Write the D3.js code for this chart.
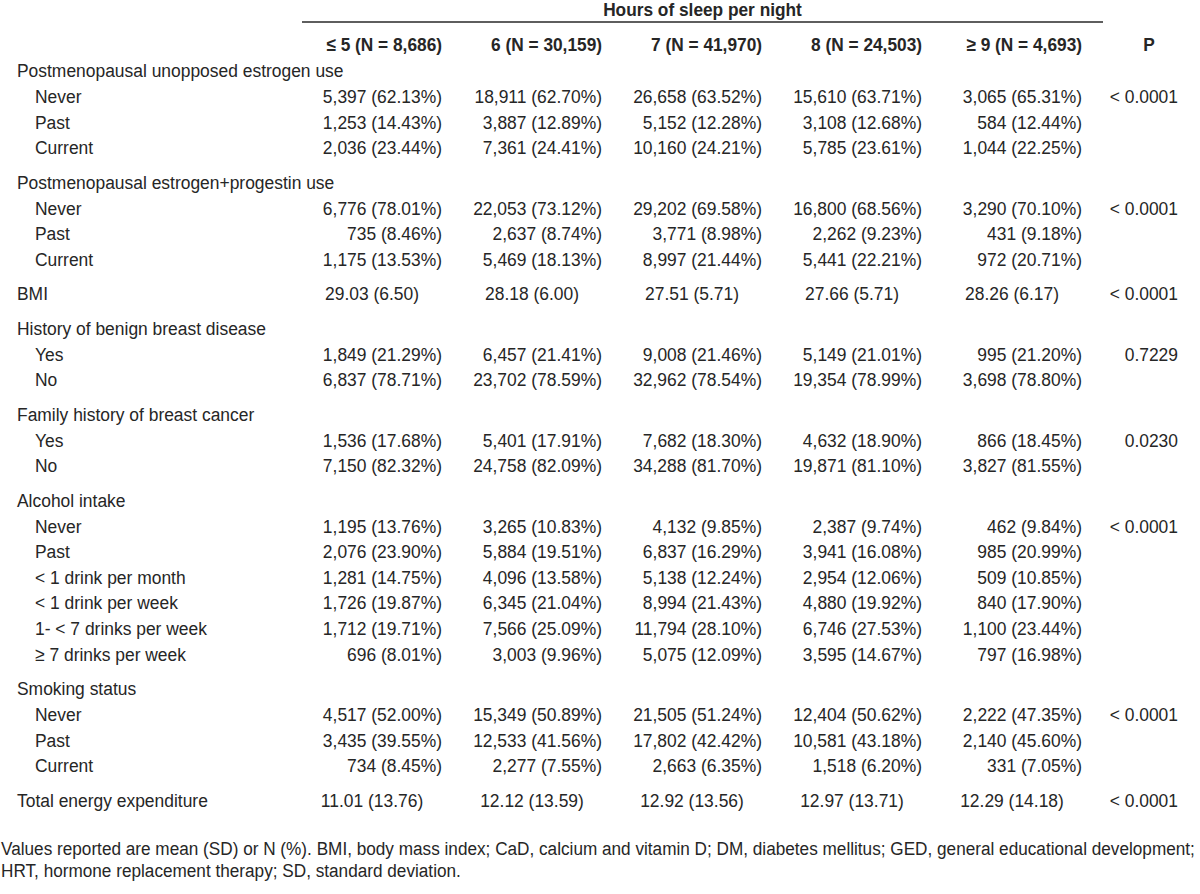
<!DOCTYPE html>
<html>
<head>
<meta charset="utf-8">
<script src="https://cdn.jsdelivr.net/npm/d3@7"></script>
<style>
  html, body { margin: 0; padding: 0; background: #fff; }
  svg { display: block; }
</style>
</head>
<body>
<svg id="chart" width="1200" height="894"></svg>
<script>
// ---------- data ----------
const spannerTitle = "Hours of sleep per night";
const columns = ["≤ 5 (N = 8,686)", "6 (N = 30,159)", "7 (N = 41,970)", "8 (N = 24,503)", "≥ 9 (N = 4,693)"];
const pHeader = "P";

const rowLabels = [
  "Postmenopausal unopposed estrogen use", "Never", "Past", "Current",
  "Postmenopausal estrogen+progestin use", "Never", "Past", "Current",
  "BMI",
  "History of benign breast disease", "Yes", "No",
  "Family history of breast cancer", "Yes", "No",
  "Alcohol intake", "Never", "Past", "< 1 drink per month", "< 1 drink per week", "1- < 7 drinks per week", "≥ 7 drinks per week",
  "Smoking status", "Never", "Past", "Current",
  "Total energy expenditure"
];
// g = group heading, s = sub-category (N (%)), m = mean (SD) row
const rowKinds = ["g","s","s","s", "g","s","s","s", "m", "g","s","s", "g","s","s", "g","s","s","s","s","s","s", "g","s","s","s", "m"];

const sleep5 = ["", "5,397 (62.13%)", "1,253 (14.43%)", "2,036 (23.44%)", "", "6,776 (78.01%)", "735 (8.46%)", "1,175 (13.53%)", "29.03 (6.50)", "", "1,849 (21.29%)", "6,837 (78.71%)", "", "1,536 (17.68%)", "7,150 (82.32%)", "", "1,195 (13.76%)", "2,076 (23.90%)", "1,281 (14.75%)", "1,726 (19.87%)", "1,712 (19.71%)", "696 (8.01%)", "", "4,517 (52.00%)", "3,435 (39.55%)", "734 (8.45%)", "11.01 (13.76)"];
const sleep6 = ["", "18,911 (62.70%)", "3,887 (12.89%)", "7,361 (24.41%)", "", "22,053 (73.12%)", "2,637 (8.74%)", "5,469 (18.13%)", "28.18 (6.00)", "", "6,457 (21.41%)", "23,702 (78.59%)", "", "5,401 (17.91%)", "24,758 (82.09%)", "", "3,265 (10.83%)", "5,884 (19.51%)", "4,096 (13.58%)", "6,345 (21.04%)", "7,566 (25.09%)", "3,003 (9.96%)", "", "15,349 (50.89%)", "12,533 (41.56%)", "2,277 (7.55%)", "12.12 (13.59)"];
const sleep7 = ["", "26,658 (63.52%)", "5,152 (12.28%)", "10,160 (24.21%)", "", "29,202 (69.58%)", "3,771 (8.98%)", "8,997 (21.44%)", "27.51 (5.71)", "", "9,008 (21.46%)", "32,962 (78.54%)", "", "7,682 (18.30%)", "34,288 (81.70%)", "", "4,132 (9.85%)", "6,837 (16.29%)", "5,138 (12.24%)", "8,994 (21.43%)", "11,794 (28.10%)", "5,075 (12.09%)", "", "21,505 (51.24%)", "17,802 (42.42%)", "2,663 (6.35%)", "12.92 (13.56)"];
const sleep8 = ["", "15,610 (63.71%)", "3,108 (12.68%)", "5,785 (23.61%)", "", "16,800 (68.56%)", "2,262 (9.23%)", "5,441 (22.21%)", "27.66 (5.71)", "", "5,149 (21.01%)", "19,354 (78.99%)", "", "4,632 (18.90%)", "19,871 (81.10%)", "", "2,387 (9.74%)", "3,941 (16.08%)", "2,954 (12.06%)", "4,880 (19.92%)", "6,746 (27.53%)", "3,595 (14.67%)", "", "12,404 (50.62%)", "10,581 (43.18%)", "1,518 (6.20%)", "12.97 (13.71)"];
const sleep9 = ["", "3,065 (65.31%)", "584 (12.44%)", "1,044 (22.25%)", "", "3,290 (70.10%)", "431 (9.18%)", "972 (20.71%)", "28.26 (6.17)", "", "995 (21.20%)", "3,698 (78.80%)", "", "866 (18.45%)", "3,827 (81.55%)", "", "462 (9.84%)", "985 (20.99%)", "509 (10.85%)", "840 (17.90%)", "1,100 (23.44%)", "797 (16.98%)", "", "2,222 (47.35%)", "2,140 (45.60%)", "331 (7.05%)", "12.29 (14.18)"];
const pValues = ["", "< 0.0001", "", "", "", "< 0.0001", "", "", "< 0.0001", "", "0.7229", "", "", "0.0230", "", "", "< 0.0001", "", "", "", "", "", "", "< 0.0001", "", "", "< 0.0001"];

const footnoteLines = [
  "Values reported are mean (SD) or N (%). BMI, body mass index; CaD, calcium and vitamin D; DM, diabetes mellitus; GED, general educational development;",
  "HRT, hormone replacement therapy; SD, standard deviation."
];

// ---------- layout ----------
const svg = d3.select("#chart");
const FONT = "'Liberation Sans Narrow','Arial Narrow','Liberation Sans',Arial,sans-serif";
const FS = 19;
const INK = "#262626";

// calibrate horizontal compression so widths match the condensed face of the original
function measure(str, weight) {
  const t = svg.append("text").attr("font-family", FONT).attr("font-size", FS)
    .attr("font-weight", weight).text(str);
  const w = t.node().getComputedTextLength();
  t.remove();
  return w;
}
const sxReg = 129 / measure("26,658 (63.52%)", "normal");
const sxBold = 111 / measure("7 (N = 41,970)", "bold");
const sxFoot = 1194 / measure(footnoteLines[0], "normal");

function put(g, str, x, y, anchor, weight, sx) {
  g.append("text")
    .attr("transform", `translate(${x},${y}) scale(${sx},1)`)
    .attr("text-anchor", anchor)
    .attr("dy", "0.36em")
    .attr("font-family", FONT)
    .attr("font-size", FS)
    .attr("font-weight", weight)
    .attr("fill", INK)
    .text(str);
}

const series = [sleep5, sleep6, sleep7, sleep8, sleep9];
const xCol = d3.scalePoint().domain(columns).range([442, 1082]); // right edge of each column
const pRight = 1178;

// vertical position: unit per row, plus extra gap before each new section
const GAP = 0.352;
let acc = [];
let u = 0;
rowKinds.forEach((k, i) => {
  if (i > 0 && k !== "s") u += 1 + GAP; else if (i > 0) u += 1;
  acc.push(u);
});
const y = d3.scaleLinear().domain([0, acc[acc.length - 1]]).range([70.5, 800]);

const g = svg.append("g");

// spanner
put(g, spannerTitle, (302 + 1103) / 2, 9, "middle", "bold", sxBold);
g.append("line").attr("x1", 302).attr("x2", 1103).attr("y1", 22).attr("y2", 22)
  .attr("stroke", "#5e5e5e").attr("stroke-width", 2);

// column headers
columns.forEach(c => put(g, c, xCol(c), 44, "end", "bold", sxBold));
put(g, pHeader, 1149, 44, "middle", "bold", sxBold);

// rows
rowLabels.forEach((lab, i) => {
  const yy = y(acc[i]);
  const kind = rowKinds[i];
  put(g, lab, kind === "s" ? 35 : 17, yy, "start", "normal", sxReg);
  series.forEach((arr, j) => {
    const v = arr[i];
    if (!v) return;
    const xr = xCol(columns[j]);
    if (kind === "m") put(g, v, xr - 70, yy, "middle", "normal", sxReg);
    else put(g, v, xr, yy, "end", "normal", sxReg);
  });
  if (pValues[i]) put(g, pValues[i], pRight, yy, "end", "normal", sxReg);
});

// footnote
footnoteLines.forEach((line, i) => put(g, line, 1, 848 + i * 22, "start", "normal", sxFoot));
</script>
</body>
</html>
